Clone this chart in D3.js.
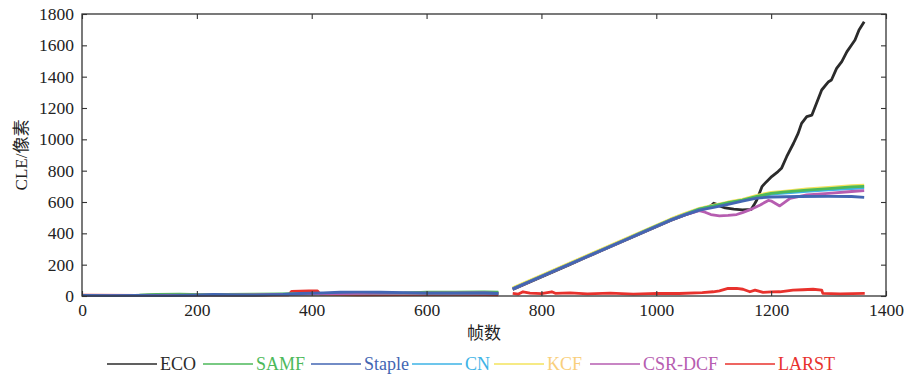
<!DOCTYPE html>
<html lang="zh">
<head>
<meta charset="utf-8">
<title>CLE chart</title>
<script src="https://cdn.jsdelivr.net/npm/d3@7/dist/d3.min.js"></script>
<style>
  body { margin: 0; background: #fff; }
  svg { display: block; }
  text { font-family: "Liberation Serif", "Times New Roman", "Noto Sans CJK SC", serif; fill: #222; }
</style>
</head>
<body>
<script>
// ---- data (frame, CLE) ; null marks the gap where no result exists ----
var xTicks = [0, 200, 400, 600, 800, 1000, 1200, 1400];
var yTicks = [0, 200, 400, 600, 800, 1000, 1200, 1400, 1600, 1800];

var names  = ["ECO", "SAMF", "Staple", "CN", "KCF", "CSR-DCF", "LARST"];
var colors = ["#2b2b2b", "#4cb95a", "#4366b3", "#3db3e6", "#f3e35c", "#b65db0", "#e8322d"];
var legendTextColors = ["#2b2b2b", "#4cb95a", "#4366b3", "#3db3e6", "#f9cf7c", "#b65db0", "#e8322d"];

var ecoData = [[0,4],[60,3],[120,5],[180,6],[240,4],[300,7],[360,10],[420,14],[450,20],[480,22],[520,18],[580,15],[640,14],[700,16],[725,18],null,
  [750,42],[775,82],[800,122],[825,162],[850,202],[875,242],[900,282],[925,322],[950,362],[975,402],[1000,442],[1025,482],[1050,518],[1075,550],
  [1085,562],[1095,575],[1100,592],[1105,585],[1110,575],[1120,562],[1135,555],[1150,550],[1165,552],[1170,580],[1175,613],[1184,698],[1192,730],
  [1201,762],[1212,794],[1218,815],[1227,889],[1239,975],[1247,1038],[1253,1102],[1262,1145],[1271,1155],[1279,1230],[1288,1315],[1300,1368],
  [1305,1379],[1314,1453],[1323,1496],[1332,1560],[1340,1602],[1346,1634],[1353,1698],[1362,1751]];

var samfData = [[0,3],[60,4],[100,5],[130,10],[170,12],[210,9],[250,11],[300,12],[350,14],[400,16],[450,17],[500,15],[560,18],[600,24],[650,25],[700,26],[725,24],null,
  [750,46],[775,86],[800,126],[825,166],[850,206],[875,246],[900,286],[925,326],[950,366],[975,406],[1000,446],[1025,486],[1050,522],[1075,555],
  [1100,576],[1125,596],[1150,612],[1175,636],[1200,655],[1225,664],[1262,676],[1300,686],[1340,697],[1362,700]];

var stapleData = [[0,4],[50,3],[100,4],[150,3],[200,6],[230,10],[260,7],[300,6],[350,10],[380,16],[420,20],[450,24],[480,25],[520,24],[560,22],[600,18],[650,18],[700,19],[725,16],null,
  [750,44],[775,84],[800,124],[825,164],[850,204],[875,244],[900,284],[925,324],[950,364],[975,404],[1000,444],[1025,484],[1050,518],[1075,548],
  [1100,565],[1125,585],[1150,605],[1175,625],[1200,632],[1250,635],[1300,636],[1340,635],[1362,630]];

var cnData = [[0,3],[100,4],[200,6],[300,8],[400,14],[500,18],[600,20],[700,21],[725,19],null,
  [750,46],[775,86],[800,126],[825,166],[850,206],[875,246],[900,286],[925,326],[950,366],[975,406],[1000,446],[1025,486],[1050,522],[1075,555],
  [1100,575],[1125,593],[1150,610],[1175,632],[1200,650],[1262,668],[1300,677],[1340,685],[1362,690]];

var kcfData = [[0,3],[100,4],[200,6],[300,8],[400,12],[500,16],[600,19],[700,20],[725,18],null,
  [750,52],[775,92],[800,132],[825,172],[850,212],[875,252],[900,292],[925,332],[950,372],[975,412],[1000,452],[1025,492],[1050,528],[1075,560],
  [1100,580],[1125,600],[1150,617],[1175,642],[1200,662],[1225,670],[1262,683],[1300,694],[1340,704],[1362,708]];

var csrData = [[0,3],[100,4],[200,5],[300,7],[400,13],[500,17],[600,18],[700,19],[725,17],null,
  [750,44],[775,84],[800,124],[825,164],[850,204],[875,244],[900,284],[925,324],[950,364],[975,404],[1000,444],[1025,484],[1050,518],[1075,545],
  [1085,535],[1095,520],[1110,512],[1125,514],[1140,520],[1150,532],[1168,558],[1181,581],[1195,610],[1201,605],[1215,575],[1233,623],
  [1262,645],[1300,655],[1340,667],[1362,672]];

var larstData = [[0,5],[100,4],[200,6],[300,5],[360,8],[365,30],[380,31],[395,33],[410,32],[415,10],[480,8],[560,9],[640,10],[700,9],[725,8],null,
  [750,17],[760,12],[768,27],[780,18],[800,15],[818,27],[824,17],[850,20],[880,14],[920,18],[960,12],[1001,17],[1040,16],[1080,22],[1099,27],
  [1110,33],[1125,49],[1140,48],[1151,43],[1163,27],[1172,38],[1186,23],[1200,26],[1215,27],[1238,38],[1255,40],[1273,43],[1288,38],
  [1290,17],[1320,14],[1363,17]];

var seriesData = [ecoData, samfData, stapleData, cnData, kcfData, csrData, larstData];
// draw order: back to front
var drawOrder = [6, 0, 4, 3, 1, 5, 2];

var W = 906, H = 377;
var mLeft = 82, mRight = 886, mTop = 14, mBottom = 296;

var svg = d3.select("body").append("svg").attr("width", W).attr("height", H);

var x = d3.scaleLinear().domain([0, 1400]).range([mLeft, mRight]);
var y = d3.scaleLinear().domain([0, 1800]).range([mBottom, mTop]);

// lines
var line = d3.line()
  .defined(function(d) { return d !== null; })
  .x(function(d) { return x(d[0]); })
  .y(function(d) { return y(d[1]); });

drawOrder.forEach(function(i) {
  svg.append("path")
    .datum(seriesData[i])
    .attr("fill", "none")
    .attr("stroke", colors[i])
    .attr("stroke-width", 2.8)
    .attr("stroke-linejoin", "round")
    .attr("d", line);
});

// axes (MATLAB style box with inward ticks)
var fs = 17.5;
var fmt = d3.format("d");
var bottomAxis = d3.axisBottom(x).tickValues(xTicks).tickFormat(fmt).tickSizeInner(-5).tickSizeOuter(0).tickPadding(8);
var topAxis = d3.axisTop(x).tickValues(xTicks).tickSizeInner(-5).tickSizeOuter(0).tickFormat("");
var leftAxis = d3.axisLeft(y).tickValues(yTicks).tickFormat(fmt).tickSizeInner(-5).tickSizeOuter(0).tickPadding(8);
var rightAxis = d3.axisRight(y).tickValues(yTicks).tickSizeInner(-5).tickSizeOuter(0).tickFormat("");

function styleAxis(g) {
  g.selectAll("path").remove();
  g.selectAll("line").attr("stroke", "#333").attr("stroke-width", 1.1);
  g.selectAll("text").style("font-size", fs + "px").attr("fill", "#222")
    .style("font-family", "'Liberation Serif', serif");
}

svg.append("g").attr("transform", "translate(0," + mBottom + ")").call(bottomAxis).call(styleAxis);
svg.append("g").attr("transform", "translate(0," + mTop + ")").call(topAxis).call(styleAxis);
svg.append("g").attr("transform", "translate(" + mLeft + ",0)").call(leftAxis).call(styleAxis);
svg.append("g").attr("transform", "translate(" + mRight + ",0)").call(rightAxis).call(styleAxis);

svg.append("rect")
  .attr("x", mLeft).attr("y", mTop)
  .attr("width", mRight - mLeft).attr("height", mBottom - mTop)
  .attr("fill", "none").attr("stroke", "#333").attr("stroke-width", 1.3);

// axis titles
svg.append("text")
  .attr("transform", "translate(27," + ((mTop + mBottom) / 2) + ") rotate(-90)")
  .attr("text-anchor", "middle")
  .style("font-size", "17px")
  .text("CLE/像素");

svg.append("text")
  .attr("x", (mLeft + mRight) / 2)
  .attr("y", 339)
  .attr("text-anchor", "middle")
  .style("font-size", "17px")
  .text("帧数");

// legend
var legendY = 364;
var legendX = [107, 203, 311, 412, 494, 590, 725];
names.forEach(function(n, i) {
  var g = svg.append("g").attr("transform", "translate(" + legendX[i] + "," + legendY + ")");
  g.append("line").attr("x1", 0).attr("x2", 50).attr("y1", 0).attr("y2", 0)
    .attr("stroke", colors[i]).attr("stroke-width", 1.6);
  g.append("text").attr("x", 53).attr("y", 6)
    .style("font-size", "18px")
    .style("fill", legendTextColors[i])
    .text(n);
});
</script>
</body>
</html>
